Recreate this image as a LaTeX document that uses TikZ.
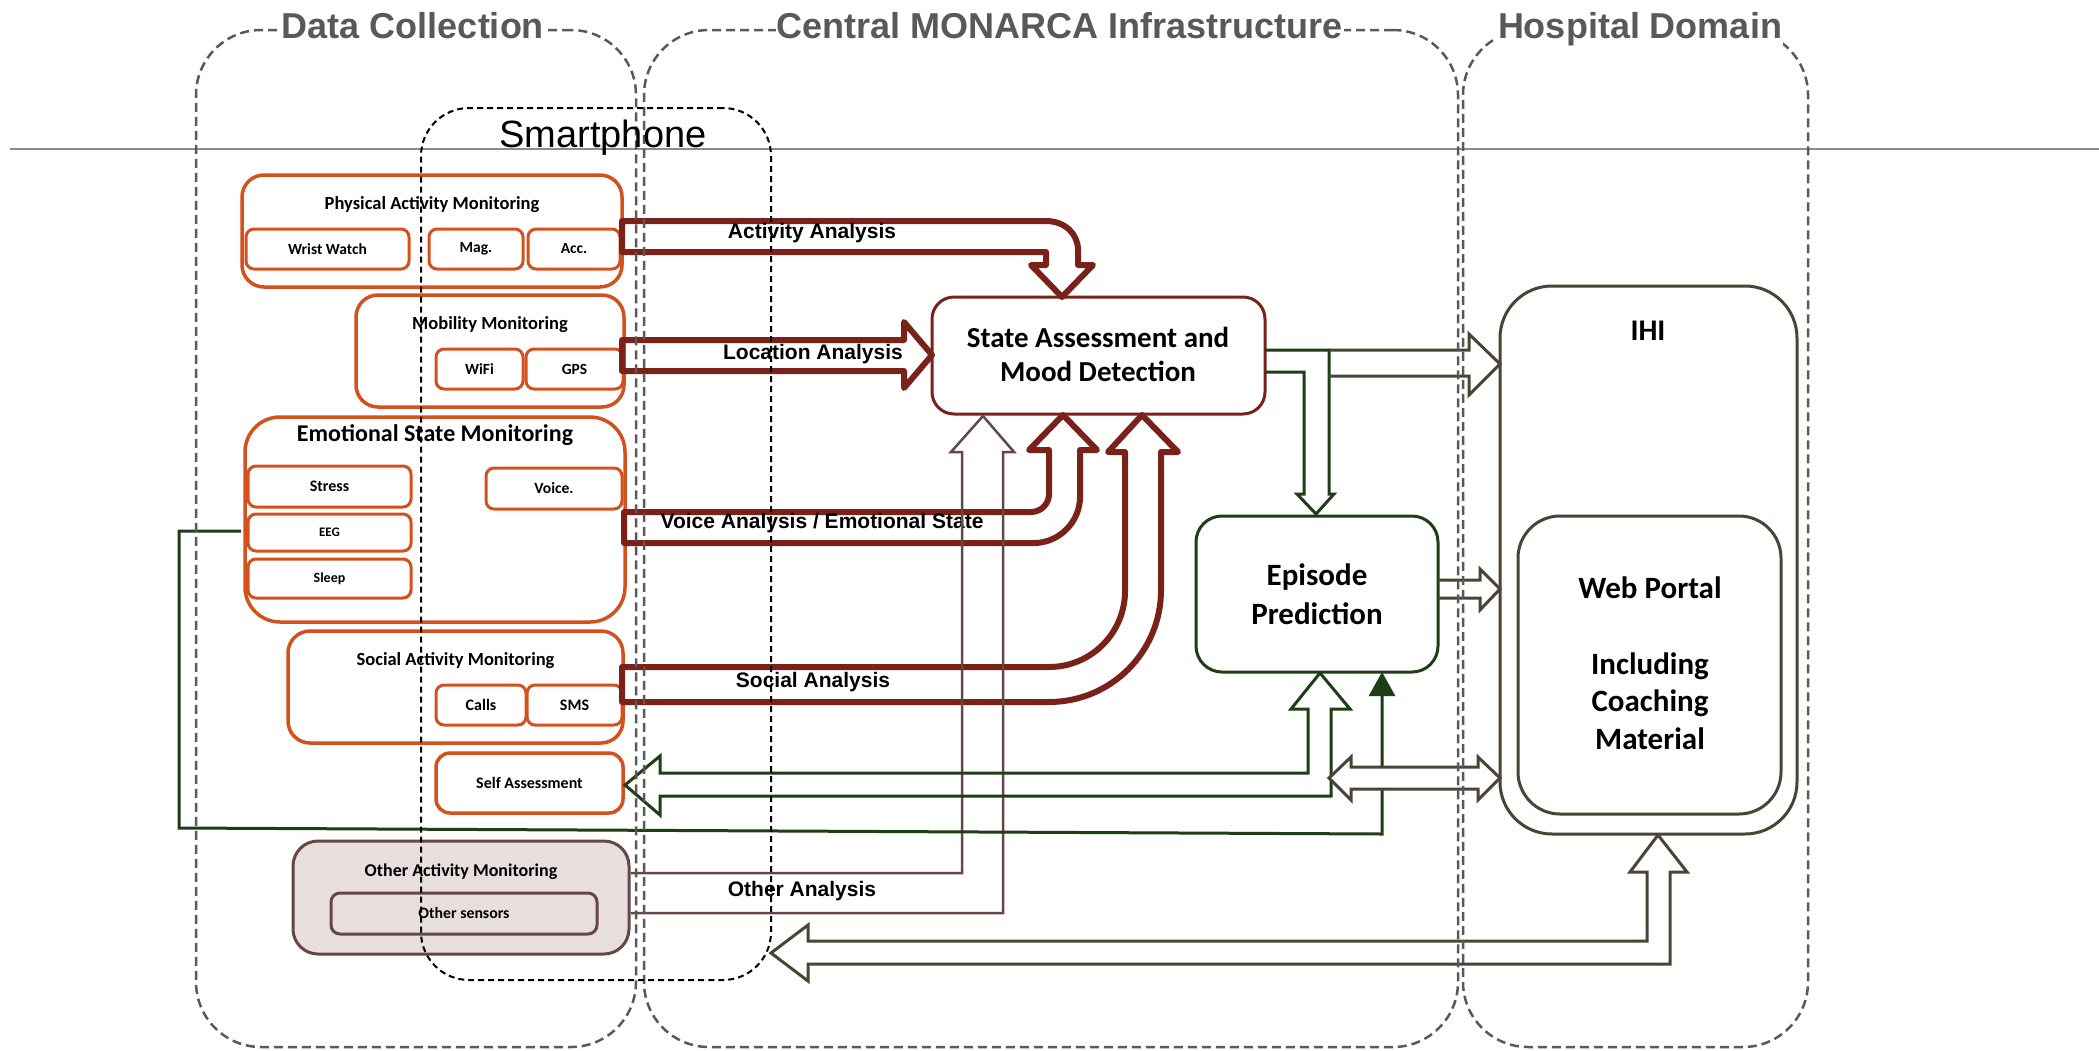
\documentclass[tikz,border=0pt]{standalone}
\usepackage{fontspec}
\setmainfont{Carlito}
\newfontfamily\arialf{Liberation Sans}
\usetikzlibrary{arrows.meta}
\definecolor{orng}{HTML}{D4501C}
\definecolor{dred}{HTML}{7A2219}
\definecolor{dgrn}{HTML}{1F3D17}
\definecolor{brwn}{HTML}{4B4333}
\definecolor{oth}{HTML}{644848}
\definecolor{othfill}{HTML}{E8DEDE}
\definecolor{cgray}{HTML}{595959}
\definecolor{hgray}{HTML}{8C8C8C}
\tikzset{
  fs/.style={font=\bfseries\fontsize{#1}{#1}\selectfont},
  obox/.style={draw=orng, line width=3.5pt, rounded corners=22pt, inner sep=0pt},
  ibox/.style={draw=orng, line width=3pt, rounded corners=8pt, inner sep=0pt, fs=15.5},
  blbl/.style={fs=#1, inner sep=0pt, anchor=base},
  anl/.style={font=\arialf\bfseries\fontsize{21}{21}\selectfont, inner sep=0pt, anchor=base},
  cont/.style={draw=cgray, line width=2.5pt, dash pattern=on 9pt off 5pt, rounded corners=65pt, inner sep=0pt},
  phone/.style={draw=black, line width=2pt, dash pattern=on 6pt off 4pt, rounded corners=48pt, inner sep=0pt},
  ttl/.style={font=\arialf\bfseries\fontsize{36}{36}\selectfont, text=cgray, fill=white, inner sep=1pt, anchor=base},
  band/.style={draw=dred, line width=6pt, line join=round},
  grnl/.style={draw=dgrn, line width=3pt},
  brnl/.style={draw=brwn, line width=3pt},
  othl/.style={draw=oth, line width=2.5pt},
}
\begin{document}
\begin{tikzpicture}[x=1pt,y=-1pt]
\fill[white] (0,0) rectangle (2099,1050);
\useasboundingbox (0,0) rectangle (2099,1050);

% horizontal rule
\draw[hgray, line width=2pt] (10,149) -- (2099,149);

% Other activity monitoring (filled)
\node[draw=oth, fill=othfill, line width=3pt, rounded corners=25pt, inner sep=0pt, minimum width=336pt, minimum height=113pt] (oam) at (461,897.5) {};
\node[blbl=18] (oamT) at (461,876) {Other Activity Monitoring};
\node[draw=oth, line width=3pt, rounded corners=9pt, inner sep=0pt, minimum width=266pt, minimum height=41pt, fs=15.8] (os) at (464,913.5) {Other sensors};

% Physical activity
\node[obox, minimum width=380pt, minimum height=112pt] (pam) at (432,231) {};
\node[blbl=18.5] (pamT) at (432,209) {Physical Activity Monitoring};
\node[ibox, minimum width=163pt, minimum height=40pt] (ww) at (327.5,249) {Wrist Watch};
\node[ibox, minimum width=94pt, minimum height=40pt] (mag) at (476,249) {Mag.};
\node[ibox, minimum width=92pt, minimum height=40pt] (acc) at (574,249) {Acc.};

% Mobility
\node[obox, minimum width=268pt, minimum height=112pt] (mm) at (490,351) {};
\node[blbl=18.5] (mmT) at (490,329) {Mobility Monitoring};
\node[ibox, minimum width=87pt, minimum height=40pt] (wifi) at (479.5,369) {WiFi};
\node[ibox, minimum width=97pt, minimum height=40pt] (gps) at (574.5,369) {GPS};

% Emotional state
\node[obox, rounded corners=35pt, minimum width=380pt, minimum height=205pt] (esm) at (435,519.5) {};
\node[blbl=24] (esmT) at (435,441) {Emotional State Monitoring};
\node[ibox, fs=16, minimum width=163pt, minimum height=41pt] (stress) at (329.5,486.5) {Stress};
\node[ibox, fs=13, minimum width=163pt, minimum height=37pt] (eeg) at (329.5,532.5) {EEG};
\node[ibox, fs=14, minimum width=163pt, minimum height=39pt] (sleep) at (329.5,578.5) {Sleep};
\node[ibox, fs=15.6, minimum width=136pt, minimum height=41pt] (voice) at (554,488.5) {Voice.};

% Social
\node[obox, minimum width=335pt, minimum height=112pt] (sam) at (455.5,687) {};
\node[blbl=18.5] (samT) at (455.5,665) {Social Activity Monitoring};
\node[ibox, fs=16, minimum width=90pt, minimum height=40pt] (calls) at (481,705) {Calls};
\node[ibox, fs=16, minimum width=95pt, minimum height=40pt] (sms) at (574.5,705) {SMS};

% Self assessment
\node[obox, rounded corners=14pt, fs=16, minimum width=187pt, minimum height=60pt] (sa) at (529.5,783) {Self Assessment};

% Central nodes
\node[draw=dred, line width=3pt, rounded corners=22pt, inner sep=0pt, minimum width=333pt, minimum height=117pt] (samd) at (1098.5,355.5) {};
\node[align=center, inner sep=0pt, font=\bfseries\fontsize{29}{34}\selectfont] (samdT) at (1098,354) {State Assessment and\\Mood Detection};
\node[draw=dgrn, line width=3pt, rounded corners=26pt, inner sep=0pt, minimum width=242pt, minimum height=156pt] (ep) at (1317,594) {};
\node[align=center, inner sep=0pt, font=\bfseries\fontsize{31}{39}\selectfont] (epT) at (1317,594) {Episode\\Prediction};

% Hospital nodes
\node[draw=brwn, line width=3pt, rounded corners=52pt, inner sep=0pt, minimum width=297pt, minimum height=548pt] (ihi) at (1648.5,560) {};
\node[inner sep=0pt, fs=30] (ihiT) at (1648,331) {IHI};
\node[draw=brwn, line width=3pt, rounded corners=42pt, inner sep=0pt, minimum width=263pt, minimum height=298pt] (web) at (1649.5,665) {};
\node[align=center, inner sep=0pt, font=\bfseries\fontsize{31}{37.5}\selectfont] (webT) at (1650,663) {Web Portal\\[38pt]Including\\Coaching\\Material};

% Analysis bands (dark red block arrows)
\draw[band] (622,221) -- (1046,221) .. controls (1065,221) and (1078,234) .. (1078,250) -- (1078,265) -- (1093,265) -- (1062,297) -- (1031,265) -- (1046,265) -- (1046,252) -- (622,252) -- cycle;
\draw[band] (622,340) -- (904,340) -- (904,322) -- (932,355) -- (904,388) -- (904,371) -- (622,371) -- cycle;
\draw[band] (624,512) -- (1031,512) .. controls (1041,512) and (1049,504) .. (1049,494) -- (1049,450) -- (1029,450) -- (1063,415) -- (1097,450) -- (1080,450) -- (1080,497) .. controls (1080,522) and (1059,543) .. (1034,543) -- (624,543) -- cycle;
\draw[band] (622,667) -- (1049,667) .. controls (1091,667) and (1125,633) .. (1125,591) -- (1125,452) -- (1108,452) -- (1142,415) -- (1178,452) -- (1161,452) -- (1161,590) .. controls (1161,652) and (1111,702) .. (1049,702) -- (622,702) -- cycle;

\node[anl] (aa) at (812,238) {Activity Analysis};
\node[anl] (la) at (813,359) {Location Analysis};
\node[anl] (va) at (822,528) {Voice Analysis / Emotional State};
\node[anl] (soa) at (813,687) {Social Analysis};
\node[anl] (oa) at (802,896) {Other Analysis};

% Other analysis open arrow
\draw[othl] (oam.east |- 0,873) -- (962,873) -- (962,452) -- (951,452) -- (983,416) -- (1014,452) -- (1003,452) -- (1003,913) -- (oam.east |- 0,913);

% EEG feedback line
\draw[grnl, -{Triangle[length=24pt,width=26pt]}] (241,531) -- (179,531) -- (179,828) -- (1382,834) -- (1382,672);

% Self assessment <-> Episode prediction
\draw[grnl] (1308,709) -- (1308,773) -- (660,773) -- (660,756) -- (625,785) -- (660,815) -- (660,796) -- (1331,796) -- (1331,709) -- (1350,709) -- (1320,673) -- (1291,709) -- cycle;

% SAMD -> EP
\draw[grnl] (1265,350) -- (1329,350) -- (1329,494) -- (1334,494) -- (1316,514) -- (1297,494) -- (1304,494) -- (1304,372) -- (1265,372);
% SAMD -> IHI
\draw[brnl] (1329,350) -- (1469,350) -- (1469,334) -- (1500,364) -- (1469,395) -- (1469,376) -- (1329,376);
% EP -> Web
\draw[brnl] (1438,580) -- (1480,580) -- (1480,569) -- (1500,589) -- (1480,610) -- (1480,598) -- (1438,598);
% EP <-> IHI double arrow
\draw[brnl, fill=white] (1329,778) -- (1351,757) -- (1351,767) -- (1478,767) -- (1478,757) -- (1500,778) -- (1478,800) -- (1478,789) -- (1351,789) -- (1351,800) -- cycle;
% IHI <-> Smartphone
\draw[brnl] (1647,872) -- (1647,941) -- (808,941) -- (808,925) -- (771,953) -- (808,981) -- (808,964) -- (1670,964) -- (1670,872) -- (1687,872) -- (1658,835) -- (1630,872) -- cycle;

% Containers
\node[cont, minimum width=440pt, minimum height=1017pt] (dc) at (416,538.5) {};
\node[cont, minimum width=814pt, minimum height=1017pt] (cmi) at (1051,538.5) {};
\node[cont, minimum width=345pt, minimum height=1017pt] (hd) at (1635.5,538.5) {};
\node[phone, minimum width=350pt, minimum height=872pt] (sp) at (596,544) {};
\node[font=\arialf\fontsize{38}{44}\selectfont, inner sep=0pt, anchor=base] (spT) at (603,147) {Smartphone};

% Titles
\node[ttl] (t1) at (413,38) {Data Collection};
\node[ttl] (t2) at (1060,38) {Central MONARCA Infrastructure};
\node[ttl] (t3) at (1640,38) {Hospital Domain};
\end{tikzpicture}
\end{document}
